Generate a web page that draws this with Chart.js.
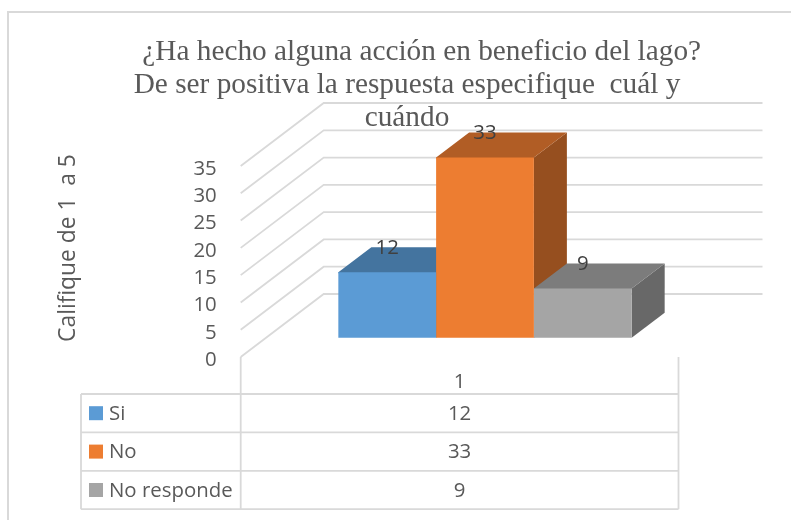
<!DOCTYPE html>
<html><head><meta charset="utf-8">
<script src="https://cdn.jsdelivr.net/npm/chart.js@4"></script>
<style>
html,body{margin:0;padding:0;background:#fff;overflow:hidden;width:791px;height:520px}
#frame{position:absolute;left:7px;top:11px;width:796px;height:507px;border-left:2px solid #d9d9d9;border-top:2px solid #d9d9d9}
canvas{display:block}
</style></head><body>
<div id="frame"><canvas id="c" width="796" height="507" style="width:796px;height:507px"></canvas></div>
<script>
const categories = ['1'];
const seriesNames = ['Si', 'No', 'No responde'];
const siValues = [12];
const noValues = [33];
const noRespondeValues = [9];
const yTicks = [0, 5, 10, 15, 20, 25, 30, 35];
const titleLines = ['    ¿Ha hecho alguna acción en beneficio del lago?', 'De ser positiva la respuesta especifique  cuál y', 'cuándo'];
const yTitle = 'Califique de 1  a 5';
const frontColors = ['#5B9BD5', '#ED7D31', '#A5A5A5'];
const topColors = ['#44749F', '#B15D25', '#7C7C7C'];
const sideColors = ['#396286', '#964F1F', '#686868'];

const SANS = '"Open Sans"';
const FONT_SIZE = 20.4;
const TEXT = '#595959', LABEL = '#404040', LINE = '#D9D9D9';
const WALL = {dx: 83, dy: -63}, BAR_SHIFT = {dx: 25.4, dy: -19.3}, BAR_DEPTH = {dx: 33, dy: -25};

function seg(ctx, pts, w){
  ctx.save(); ctx.strokeStyle = LINE; ctx.lineWidth = w || 1.8; ctx.beginPath();
  pts.forEach((p,i)=> i ? ctx.lineTo(p[0],p[1]) : ctx.moveTo(p[0],p[1]));
  ctx.stroke(); ctx.restore();
}
function poly(ctx, pts, color){
  ctx.fillStyle = color; ctx.beginPath();
  pts.forEach((p,i)=> i ? ctx.lineTo(p[0],p[1]) : ctx.moveTo(p[0],p[1]));
  ctx.closePath(); ctx.fill();
}
const TABLE = {left: -159.7, top: 37, row: 38.4};

const scene = {
  id: 'scene',
  beforeDraw(chart){
    const ctx = chart.ctx, y = chart.scales.y, a = chart.chartArea;
    // the title centres on the whole frame, not on the padded plot width
    chart.titleBlock.right = chart.width;
    y.ticks.forEach((t,i)=>{
      const py = y.getPixelForTick(i);
      seg(ctx, [[a.left,py],[a.left+WALL.dx,py+WALL.dy],[a.right+WALL.dx+1,py+WALL.dy]]);
    });
    const L = a.left + TABLE.left, T = a.bottom + TABLE.top, R = TABLE.row, B = T + R*seriesNames.length;
    seg(ctx, [[a.left,a.bottom],[a.left,B]]);
    seg(ctx, [[a.right,a.bottom],[a.right,B]]);
    seg(ctx, [[L,T],[L,B]]);
    for (let r=0;r<=seriesNames.length;r++) seg(ctx, [[L,T+r*R],[a.right,T+r*R]]);
    ctx.save();
    ctx.font = FONT_SIZE+'px '+SANS; ctx.fillStyle = TEXT; ctx.textBaseline='middle';
    chart.data.datasets.forEach((ds,r)=>{
      const cy = T + r*R + R/2;
      ctx.fillStyle = frontColors[r];
      ctx.fillRect(L+8, cy-7, 14, 14);
      ctx.fillStyle = TEXT; ctx.textAlign='left';
      ctx.fillText(ds.label, L+28, cy+1);
      ctx.textAlign='center';
      ctx.fillText(String(ds.data[0]), (a.left+a.right)/2, cy+1);
    });
    ctx.font = '22.8px '+SANS;
    ctx.translate(60, 235); ctx.rotate(-Math.PI/2);
    ctx.textAlign='center'; ctx.fillText(yTitle, 0, 0);
    ctx.restore();
  },
  beforeDatasetsDraw(chart){
    const ctx = chart.ctx;
    ctx.save();
    ctx.translate(BAR_SHIFT.dx, BAR_SHIFT.dy);
    chart.data.datasets.forEach((ds,i)=>{
      const bar = chart.getDatasetMeta(i).data[0];
      const l = bar.x - bar.width/2, r = bar.x + bar.width/2, t = bar.y, b = bar.base, d = BAR_DEPTH;
      poly(ctx, [[r,t],[r+d.dx,t+d.dy],[r+d.dx,b+d.dy],[r,b]], sideColors[i]);
      poly(ctx, [[l,t+1],[l,t],[l+d.dx,t+d.dy],[r+d.dx,t+d.dy],[r,t],[r,t+1]], topColors[i]);
    });
  },
  afterDatasetsDraw(chart){
    const ctx = chart.ctx;
    ctx.restore();
    ctx.save();
    ctx.font = FONT_SIZE+'px '+SANS; ctx.fillStyle = LABEL;
    ctx.textAlign='center'; ctx.textBaseline='middle';
    chart.data.datasets.forEach((ds,i)=>{
      const bar = chart.getDatasetMeta(i).data[0];
      ctx.fillText(String(ds.data[0]), bar.x+BAR_SHIFT.dx, bar.y+BAR_SHIFT.dy+BAR_DEPTH.dy+1);
    });
    ctx.restore();
  }
};

new Chart(document.getElementById('c'), {
  type: 'bar',
  data: {
    labels: categories,
    datasets: [
      {label: seriesNames[0], data: siValues, backgroundColor: frontColors[0]},
      {label: seriesNames[1], data: noValues, backgroundColor: frontColors[1]},
      {label: seriesNames[2], data: noRespondeValues, backgroundColor: frontColors[2]}
    ]
  },
  plugins: [scene],
  options: {
    responsive: false, animation: false,
    devicePixelRatio: 1,
    categoryPercentage: 0.67, barPercentage: 1,
    layout: {padding: {left: 0, right: 126.5, top: 0, bottom: 0}},
    datasets: {bar: {clip: false}},
    plugins: {
      legend: {display: false},
      tooltip: {enabled: false},
      title: {
        display: true, text: titleLines, color: TEXT,
        font: {family: '"Liberation Serif"', size: 29.3, weight: 'normal', lineHeight: 33/29.3},
        padding: {top: 23, bottom: 31}
      }
    },
    scales: {
      x: {
        grid: {display: false}, border: {display: false},
        ticks: {font: {family: SANS, size: FONT_SIZE}, color: TEXT, padding: 5, maxRotation: 0},
        afterFit(s){ s.height = 163; }
      },
      y: {
        min: 0, max: 35,
        afterBuildTicks(s){ s.ticks = yTicks.map(v=>({value:v})); },
        grid: {display: false}, border: {display: false},
        ticks: {font: {family: SANS, size: FONT_SIZE}, color: TEXT, padding: 16, labelOffset: 3, autoSkip: false},
        afterFit(s){ s.width = 231.7; }
      }
    }
  }
});
</script>
</body></html>
